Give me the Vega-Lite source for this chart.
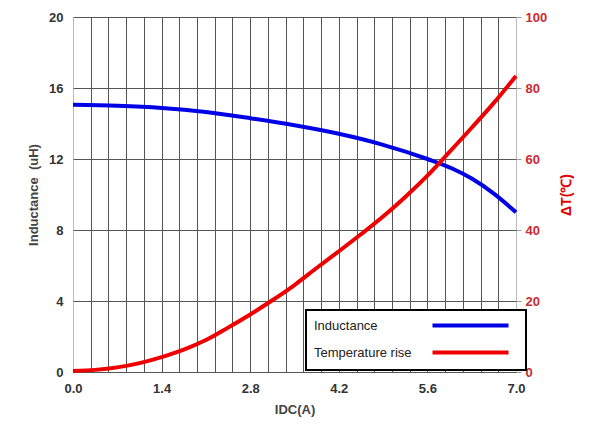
{
  "$schema": "https://vega.github.io/schema/vega-lite/v6.json",
  "width": 443,
  "height": 355,
  "autosize": {"type": "none"},
  "padding": {"left": 73, "top": 17, "right": 74, "bottom": 61},
  "background": "white",
  "config": {
    "font": "Liberation Sans",
    "view": {"stroke": null},
    "axis": {"labelFont": "Liberation Sans", "titleFont": "Liberation Sans", "labelFontWeight": "bold", "titleFontWeight": "bold", "labelFontSize": 13, "titleFontSize": 13},
    "legend": {
      "title": null,
      "strokeColor": "black",
      "strokeWidth": 2,
      "fillColor": "white",
      "padding": 9,
      "symbolType": "M55.5,0H93.5",
      "symbolSize": 16,
      "symbolStrokeWidth": 4,
      "labelOffset": -14,
      "labelAlign": "left",
      "labelFont": "Liberation Sans",
      "labelFontSize": 13,
      "labelColor": "#222222",
      "rowPadding": 10
    }
  },
  "data": {
    "values": [
      {"I": 0.0, "series": "Inductance", "v": 15.05},
      {"I": 0.7, "series": "Inductance", "v": 15.0},
      {"I": 1.4, "series": "Inductance", "v": 14.88},
      {"I": 2.1, "series": "Inductance", "v": 14.65},
      {"I": 2.8, "series": "Inductance", "v": 14.3},
      {"I": 3.5, "series": "Inductance", "v": 13.9},
      {"I": 4.2, "series": "Inductance", "v": 13.42},
      {"I": 4.9, "series": "Inductance", "v": 12.8},
      {"I": 5.6, "series": "Inductance", "v": 12.0},
      {"I": 6.0, "series": "Inductance", "v": 11.45},
      {"I": 6.3, "series": "Inductance", "v": 10.9},
      {"I": 6.65, "series": "Inductance", "v": 10.05},
      {"I": 7.0, "series": "Inductance", "v": 9.0},
      {"I": 0.0, "series": "Temperature rise", "v": 0.3},
      {"I": 0.35, "series": "Temperature rise", "v": 0.6},
      {"I": 0.7, "series": "Temperature rise", "v": 1.3},
      {"I": 1.05, "series": "Temperature rise", "v": 2.5},
      {"I": 1.4, "series": "Temperature rise", "v": 4.2},
      {"I": 1.75, "series": "Temperature rise", "v": 6.3},
      {"I": 2.1, "series": "Temperature rise", "v": 9.0},
      {"I": 2.45, "series": "Temperature rise", "v": 12.5},
      {"I": 2.8, "series": "Temperature rise", "v": 16.2},
      {"I": 3.15, "series": "Temperature rise", "v": 20.2},
      {"I": 3.5, "series": "Temperature rise", "v": 24.5},
      {"I": 3.85, "series": "Temperature rise", "v": 29.3},
      {"I": 4.2, "series": "Temperature rise", "v": 34.0},
      {"I": 4.55, "series": "Temperature rise", "v": 38.8},
      {"I": 4.9, "series": "Temperature rise", "v": 43.8},
      {"I": 5.25, "series": "Temperature rise", "v": 49.3},
      {"I": 5.6, "series": "Temperature rise", "v": 55.3},
      {"I": 5.95, "series": "Temperature rise", "v": 62.0},
      {"I": 6.3, "series": "Temperature rise", "v": 68.8},
      {"I": 6.65, "series": "Temperature rise", "v": 75.8},
      {"I": 7.0, "series": "Temperature rise", "v": 83.4}
    ]
  },
  "encoding": {
    "x": {
      "field": "I",
      "type": "quantitative",
      "scale": {"domain": [0, 7], "nice": false, "zero": false},
      "axis": {
        "title": "IDC(A)",
        "values": [0, 0.28, 0.56, 0.84, 1.12, 1.4, 1.68, 1.96, 2.24, 2.52, 2.8, 3.08, 3.36, 3.64, 3.92, 4.2, 4.48, 4.76, 5.04, 5.32, 5.6, 5.88, 6.16, 6.44, 6.72, 7.0],
        "labelExpr": "abs(datum.value / 1.4 - round(datum.value / 1.4)) < 0.01 ? format(datum.value, '.1f') : ''",
        "grid": true,
        "gridColor": {"condition": {"test": "datum.value < 0.01 || datum.value > 6.99", "value": "#bbbbbb"}, "value": "#555555"},
        "gridOpacity": 1,
        "gridWidth": 1,
        "ticks": false,
        "domain": false,
        "labelPadding": 10,
        "labelColor": "#333333",
        "labelFlush": false,
        "titleColor": "#444444",
        "titlePadding": 8
      }
    }
  },
  "layer": [
    {
      "transform": [{"filter": "datum.series === 'Inductance'"}],
      "mark": {"type": "line", "strokeWidth": 4, "interpolate": "monotone"},
      "encoding": {
        "y": {
          "field": "v",
          "type": "quantitative",
          "scale": {"domain": [0, 20], "nice": false},
          "axis": {
            "orient": "left",
            "title": "Inductance\u00a0 (uH)",
            "values": [0, 4, 8, 12, 16, 20],
            "grid": true,
            "gridColor": "#555555",
            "gridOpacity": 1,
            "ticks": false,
            "domain": false,
            "labelPadding": 10,
            "labelColor": "#333333",
            "titleColor": "#444444",
            "titlePadding": 8
          }
        },
        "color": {
          "field": "series",
          "type": "nominal",
          "scale": {"domain": ["Inductance", "Temperature rise"], "range": ["#0000e6", "#ee0000"]},
          "legend": {"orient": "none", "legendX": 233, "legendY": 293}
        }
      }
    },
    {
      "transform": [{"filter": "datum.series === 'Temperature rise'"}],
      "mark": {"type": "line", "strokeWidth": 4, "interpolate": "monotone"},
      "encoding": {
        "y": {
          "field": "v",
          "type": "quantitative",
          "scale": {"domain": [0, 100], "nice": false},
          "axis": {
            "orient": "right",
            "title": "ΔT(℃)",
            "titleAngle": 270,
            "values": [0, 20, 40, 60, 80, 100],
            "grid": false,
            "ticks": true,
            "tickSize": 5,
            "tickColor": "#999999",
            "domain": false,
            "labelPadding": 4,
            "labelColor": "#cc2a2f",
            "titleColor": "#e00000",
            "titleFontSize": 14,
            "titlePadding": 27
          }
        },
        "color": {
          "field": "series",
          "type": "nominal",
          "scale": {"domain": ["Inductance", "Temperature rise"], "range": ["#0000e6", "#ee0000"]},
          "legend": {"orient": "none", "legendX": 233, "legendY": 293}
        }
      }
    }
  ],
  "resolve": {"scale": {"y": "independent"}}
}
